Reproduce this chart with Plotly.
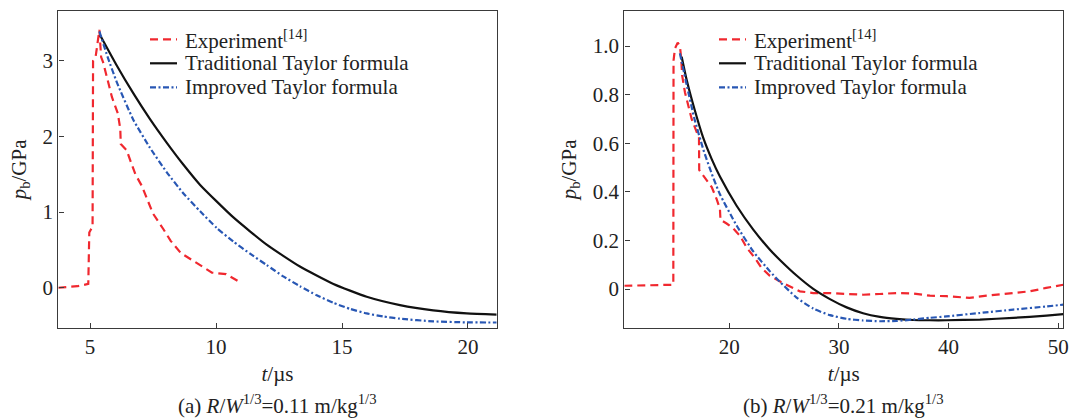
import plotly.graph_objects as go

# ---- panel (a): R/W^1/3 = 0.11 m/kg^1/3 ----
a_exp_t = [3.74, 4.5, 4.93, 4.97, 5.05, 5.1, 5.12, 5.22, 5.37, 5.44, 5.52, 5.62, 5.75, 5.87, 6.1,
           6.2, 6.22, 6.45, 6.6, 6.8, 7.05, 7.25, 7.35, 7.5, 7.9, 8.2, 8.6, 8.97, 9.3, 9.84, 10.4, 11.02]
a_exp_p = [0.0, 0.02, 0.05, 0.73, 0.78, 0.80, 3.0, 3.05, 3.41, 3.05, 2.98, 2.84, 2.70, 2.52, 2.31,
           2.10, 1.90, 1.82, 1.68, 1.50, 1.35, 1.18, 1.08, 0.98, 0.78, 0.62, 0.46, 0.38, 0.32, 0.20, 0.18, 0.06]

a_trad_t = [5.4, 6.06, 6.72, 7.38, 8.04, 8.70, 9.37, 10.69, 12.01, 13.33, 14.66, 15.98, 17.3, 18.62, 19.95, 21.14]
a_trad_p = [3.34, 2.94, 2.57, 2.23, 1.92, 1.63, 1.36, 0.93, 0.57, 0.28, 0.05, -0.12, -0.23, -0.30, -0.34, -0.355]

a_impr_t = [5.37, 5.7, 6.06, 6.72, 7.38, 8.04, 8.70, 9.37, 10.03, 10.69, 11.35, 12.01, 12.67, 13.33,
            14.0, 14.66, 15.32, 15.98, 16.64, 17.3, 18.62, 19.95, 21.14]
a_impr_p = [3.39, 3.05, 2.72, 2.22, 1.85, 1.53, 1.25, 1.01, 0.79, 0.61, 0.45, 0.30, 0.15, 0.02,
            -0.10, -0.20, -0.28, -0.34, -0.38, -0.41, -0.445, -0.458, -0.46]

# ---- panel (b): R/W^1/3 = 0.21 m/kg^1/3 ----
b_exp_t = [10.43, 14.9, 14.92, 15.05, 15.3, 15.5, 15.62, 15.7, 15.96, 16.26, 16.57, 17.08, 17.24, 17.26, 17.78,
           18.4, 18.85, 19.15, 19.2, 19.76, 20.36, 20.97, 21.6, 22.34, 22.95, 23.7, 24.6, 25.5, 26.44,
           27.66, 29.2, 30.7, 32.2, 33.7, 35.26, 36.77, 38.3, 39.8, 41.9, 43.46, 45.9, 47.4, 48.9, 50.46]
b_exp_p = [0.014, 0.018, 0.94, 0.99, 1.014, 1.0, 0.95, 0.88, 0.81, 0.75, 0.70, 0.64, 0.63, 0.49, 0.46,
           0.42, 0.37, 0.33, 0.285, 0.27, 0.25, 0.22, 0.17, 0.128, 0.087, 0.055, 0.032, 0.012, -0.009,
           -0.016, -0.016, -0.02, -0.023, -0.02, -0.016, -0.018, -0.027, -0.029, -0.036, -0.027, -0.016,
           -0.009, 0.005, 0.018]

b_trad_t = [15.66, 16.12, 16.8, 17.63, 18.4, 19.15, 20.67, 22.19, 23.71, 24.62, 26.14, 27.66, 29.18,
            30.7, 32.2, 33.74, 35.26, 36.77, 38.3, 39.8, 42.86, 45.9, 48.93, 50.46]
b_trad_p = [0.956, 0.86, 0.745, 0.622, 0.535, 0.463, 0.343, 0.245, 0.162, 0.12, 0.056, 0.001, -0.041,
            -0.075, -0.099, -0.114, -0.122, -0.127, -0.128, -0.128, -0.125, -0.118, -0.109, -0.103]

b_impr_t = [15.5, 16.12, 16.8, 17.63, 18.4, 19.15, 20.67, 22.19, 23.71, 24.62, 26.14, 27.66, 29.18,
            30.7, 32.2, 33.74, 35.26, 36.77, 38.3, 39.8, 42.86, 45.9, 48.93, 50.46]
b_impr_p = [0.97, 0.84, 0.705, 0.575, 0.475, 0.39, 0.262, 0.155, 0.073, 0.03, -0.035, -0.08, -0.107,
            -0.122, -0.129, -0.132, -0.131, -0.125, -0.118, -0.112, -0.098, -0.084, -0.071, -0.064]

a_xticks = [5, 10, 15, 20]
a_yticks = [0, 1, 2, 3]
b_xticks = [20, 30, 40, 50]
b_yticks = [0, 0.2, 0.4, 0.6, 0.8, 1.0]
b_yticktext = ["0", "0.2", "0.4", "0.6", "0.8", "1.0"]

names = ["Experiment<sup>[14]</sup>", "Traditional Taylor formula", "Improved Taylor formula"]
captions = ["(a) <i>R</i>/<i>W</i><sup>1/3</sup>=0.11 m/kg<sup>1/3</sup>",
            "(b) <i>R</i>/<i>W</i><sup>1/3</sup>=0.21 m/kg<sup>1/3</sup>"]

FONT = "Liberation Serif"
TXT = "#222222"
RED = "#f0282f"
BLACK = "#111111"
BLUE = "#2857b4"
AX = "#3a3a3a"

W, H = 1072, 418

styles = [dict(color=RED, width=2.2, dash="8px,5px"),
          dict(color=BLACK, width=2.2, dash="solid"),
          dict(color=BLUE, width=2.2, dash="6px,2.5px,2px,2.5px")]

fig = go.Figure()

panels = [
    ("x", "y", [(a_exp_t, a_exp_p), (a_trad_t, a_trad_p), (a_impr_t, a_impr_p)]),
    ("x2", "y2", [(b_exp_t, b_exp_p), (b_trad_t, b_trad_p), (b_impr_t, b_impr_p)]),
]
for xa, ya, series in panels:
    for i, (t, p) in enumerate(series):
        fig.add_trace(go.Scatter(
            x=t, y=p, mode="lines", name=names[i], xaxis=xa, yaxis=ya, showlegend=False,
            line=dict(color=styles[i]["color"], width=styles[i]["width"], dash=styles[i]["dash"],
                      shape="linear" if i == 0 else "spline", smoothing=0.5),
        ))

# plot-area positions (pixels)
L1, R1 = 58.3, 496.7
L2, R2 = 624.3, 1063.3
TOP, BOT = 11.0, 327.8


def px(x):
    return x / W


def py(y):
    return 1 - y / H


axis_common = dict(
    showline=True, linecolor=AX, linewidth=1.4, mirror=True,
    ticks="inside", ticklen=5, tickwidth=1.4, tickcolor=AX,
    showgrid=False, zeroline=False,
    tickfont=dict(family=FONT, size=21, color=TXT),
    title_font=dict(family=FONT, size=21, color=TXT),
    automargin=False,
)

fig.update_layout(
    width=W, height=H,
    margin=dict(l=0, r=0, t=0, b=0),
    paper_bgcolor="white", plot_bgcolor="white",
    font=dict(family=FONT, size=21, color=TXT),
    showlegend=False,
    xaxis=dict(domain=[px(L1), px(R1)], range=[3.74, 21.14], tickvals=a_xticks,
               title=dict(text="<i>t</i>/µs", standoff=8), anchor="y", **axis_common),
    yaxis=dict(domain=[py(BOT), py(TOP)], range=[-0.53, 3.66], tickvals=a_yticks,
               title=dict(text="<i>p</i><sub>b</sub>/GPa", standoff=10), anchor="x", **axis_common),
    xaxis2=dict(domain=[px(L2), px(R2)], range=[10.43, 50.46], tickvals=b_xticks,
                title=dict(text="<i>t</i>/µs", standoff=8), anchor="y2", **axis_common),
    yaxis2=dict(domain=[py(BOT), py(TOP)], range=[-0.159, 1.144], tickvals=b_yticks,
                ticktext=b_yticktext,
                title=dict(text="<i>p</i><sub>b</sub>/GPa", standoff=10), anchor="x2", **axis_common),
)

# key boxes inside each panel: line sample + label per series
legend_rows = [39.3, 63.3, 87.3]
for x0 in (150, 719):
    for i, yr in enumerate(legend_rows):
        fig.add_shape(type="line", xref="paper", yref="paper",
                      x0=px(x0), x1=px(x0 + 27), y0=py(yr), y1=py(yr),
                      line=dict(color=styles[i]["color"], width=styles[i]["width"],
                                dash=styles[i]["dash"]))
        fig.add_annotation(text=names[i], x=px(x0 + 33), y=py(yr), xref="paper", yref="paper",
                           xanchor="left", yanchor="middle", showarrow=False,
                           font=dict(family=FONT, size=21, color=TXT))

for cap, cx in zip(captions, [(L1 + R1) / 2, (L2 + R2) / 2]):
    fig.add_annotation(text=cap, x=px(cx), y=py(404), xref="paper", yref="paper",
                       xanchor="center", yanchor="middle", showarrow=False,
                       font=dict(family=FONT, size=21, color=TXT))

fig.write_html("out.html")
